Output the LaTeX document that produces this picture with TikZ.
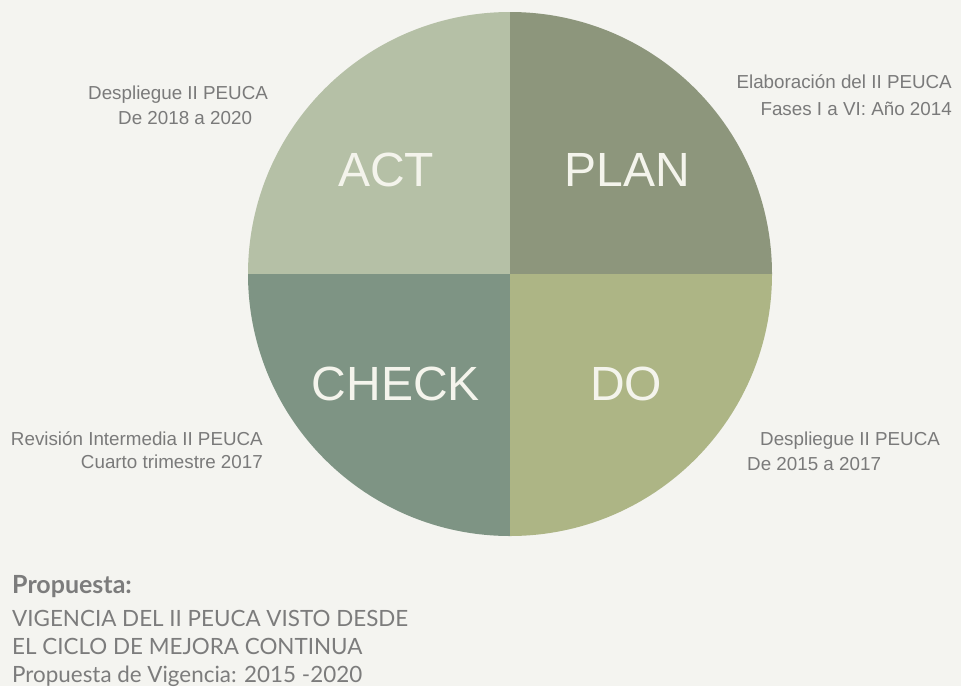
\documentclass[tikz,border=0pt]{standalone}
\usepackage{fontspec}
\setmainfont{Liberation Sans}
\newfontfamily\propfont{Lato}
\usetikzlibrary{positioning}

\definecolor{bgcol}{HTML}{F4F4F0}
\definecolor{actcol}{HTML}{B5C0A6}
\definecolor{plancol}{HTML}{8D967C}
\definecolor{checkcol}{HTML}{7E9484}
\definecolor{docol}{HTML}{ADB585}
\definecolor{quadtext}{HTML}{F4F4EC}
\definecolor{sidegray}{HTML}{7A7A7A}
\definecolor{propgray}{HTML}{7C7C7C}

\begin{document}
\begin{tikzpicture}[
    x=1pt, y=-1pt,
    quad/.style={text=quadtext, inner sep=0pt, anchor=base, font=\fontsize{48}{48}\selectfont},
    side/.style={text=sidegray, inner sep=0pt, font=\fontsize{18.8}{18.8}\selectfont},
    prop/.style={text=propgray, inner sep=0pt, anchor=base west, font=\propfont\fontsize{22.4}{22.4}\selectfont}
]

\fill[bgcol] (0,0) rectangle (961,686);
\useasboundingbox (0,0) rectangle (961,686);

% PDCA circle
\coordinate (c) at (510,274);
\begin{scope}
  \clip (c) circle[radius=262];
  \fill[actcol] (c) rectangle ++(-270,-270);
  \fill[plancol] (c) rectangle ++(270,-270);
  \fill[checkcol] (c) rectangle ++(-270,270);
  \fill[docol] (c) rectangle ++(270,270);
\end{scope}

\node[quad] (act) at (386,186) {ACT};
\node[quad] (plan) at (627,186) {PLAN};
\node[quad] (check) at (396,400) {CHECK};
\node[quad] (do) at (626,400) {DO};

% side labels
\node[side, anchor=base west] (actline1) at (88,99) {Despliegue II PEUCA};
\node[side, anchor=base west] (actline2) at (118,124) {De 2018 a 2020};
\node[side, anchor=base east] (planline1) at (952,88) {Elaboración del II PEUCA};
\node[side, anchor=base east] (planline2) at (952,115) {Fases I a VI: Año 2014};
\node[side, anchor=base east] (checkline1) at (263,445) {Revisión Intermedia II PEUCA};
\node[side, anchor=base east] (checkline2) at (263,468) {Cuarto trimestre 2017};
\node[side, anchor=base west] (doline1) at (760,445) {Despliegue II PEUCA};
\node[side, anchor=base west] (doline2) at (747,470) {De 2015 a 2017};

% proposal text
\node[prop, font=\propfont\bfseries\fontsize{25}{25}\selectfont] (proptitle) at (12,593) {Propuesta:};
\node[prop] (propline1) at (12,626) {VIGENCIA DEL II PEUCA VISTO DESDE};
\node[prop] (propline2) at (12,654) {EL CICLO DE MEJORA CONTINUA};
\node[prop] (propline3) at (12,682) {Propuesta de Vigencia: 2015 -2020};

\end{tikzpicture}
\end{document}
